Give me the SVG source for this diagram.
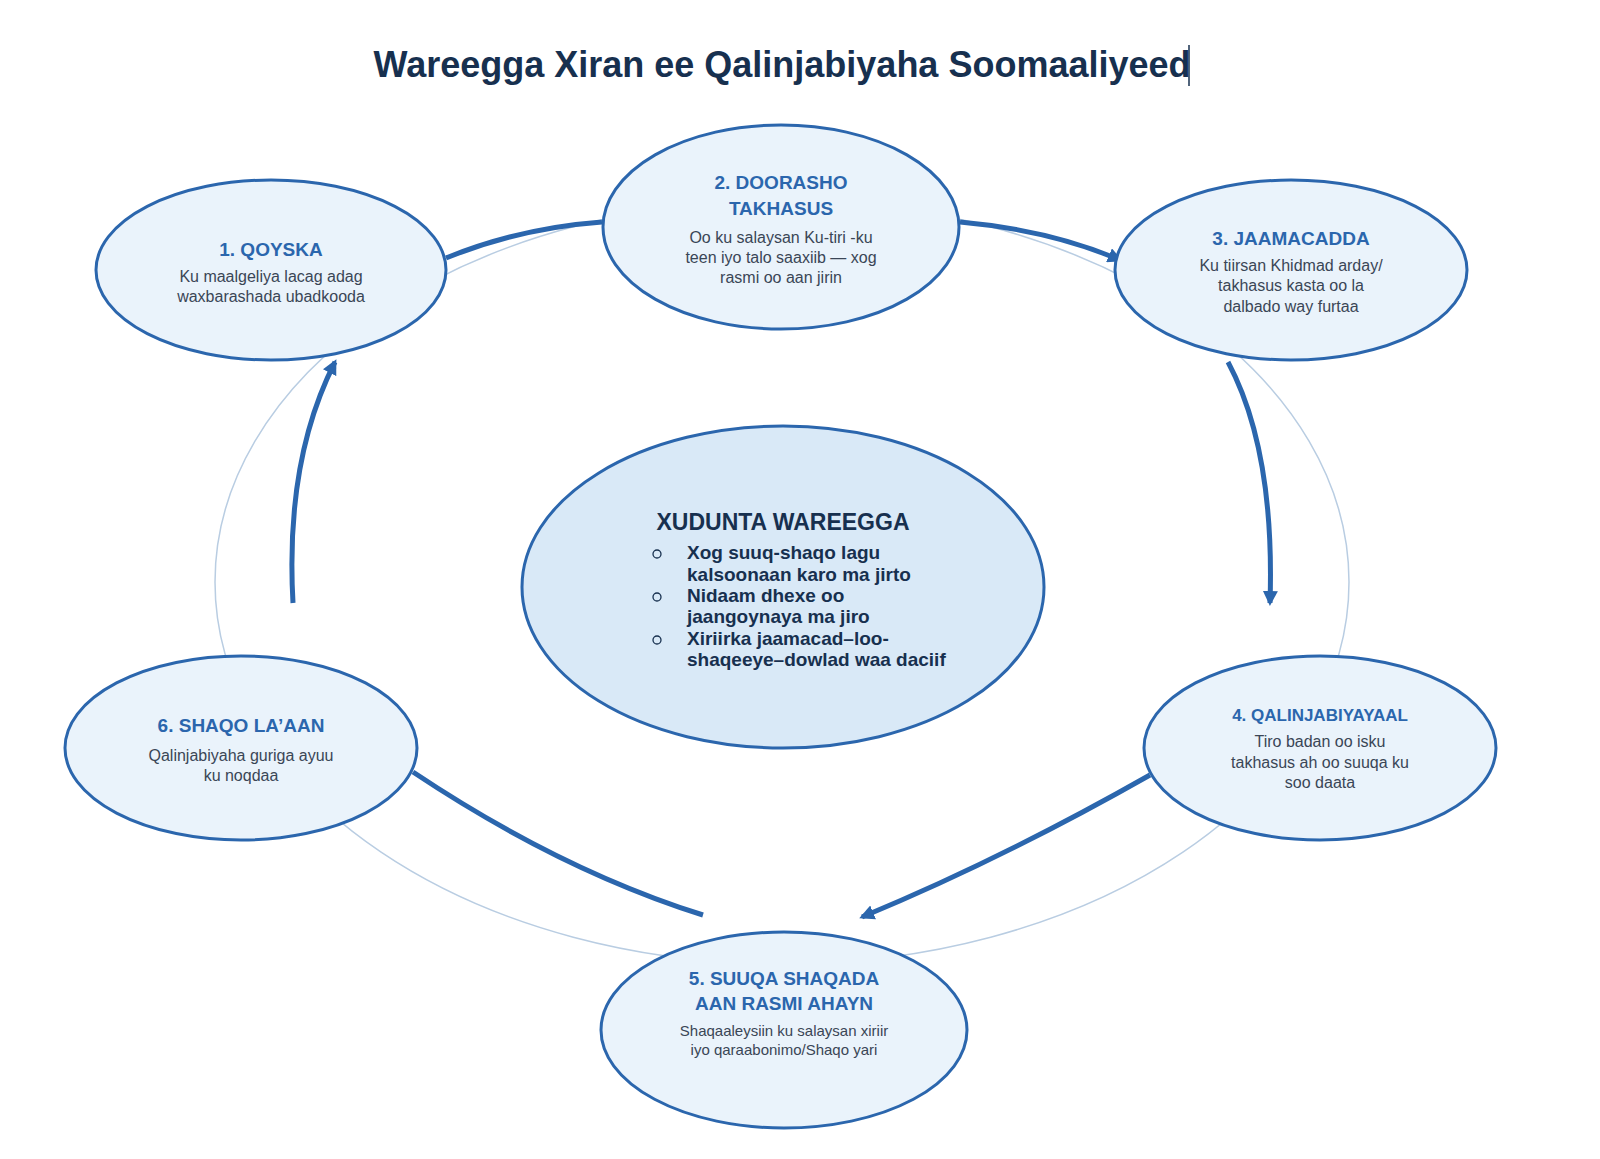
<svg xmlns="http://www.w3.org/2000/svg" width="1600" height="1159" viewBox="0 0 1600 1159">
<style>
.n{fill:#eaf3fb;stroke:#2b66ad;stroke-width:3}
.t{font-family:"Liberation Sans",Arial,sans-serif;font-weight:bold;fill:#2b66ad;font-size:19px;text-anchor:middle}
.d{font-family:"Liberation Sans",Arial,sans-serif;fill:#3a4656;font-size:16px;text-anchor:middle}
.c{fill:none;stroke:#2b66ad;stroke-width:5}
.b{font-family:"Liberation Sans",Arial,sans-serif;font-weight:bold;fill:#17304f;font-size:19px}
</style>
<defs><marker id="a" viewBox="0 0 10 10" refX="8" refY="5" markerWidth="3" markerHeight="3" orient="auto"><path d="M0,0L10,5L0,10z" fill="#2b66ad"/></marker></defs>
<rect width="1600" height="1159" fill="#fff"/>
<text x="782" y="77" font-family="Liberation Sans,Arial,sans-serif" font-weight="bold" font-size="36" fill="#17304f" text-anchor="middle">Wareegga Xiran ee Qalinjabiyaha Soomaaliyeed</text>
<line x1="1189" y1="45" x2="1189" y2="86" stroke="#17304f" stroke-width="1.5"/>
<ellipse cx="782" cy="582" rx="567" ry="382" fill="none" stroke="#b9cde2" stroke-width="1.5"/>
<g id="connectors">
<path class="c" d="M446,258 Q520,228 602,222"/>
<path class="c" d="M960,222 Q1050,230 1120,260" marker-end="url(#a)"/>
<path class="c" d="M1228,362 Q1275,450 1270,603" marker-end="url(#a)"/>
<path class="c" d="M1150,775 Q1000,860 862,917" marker-end="url(#a)"/>
<path class="c" d="M413,772 Q560,870 703,915"/>
<path class="c" d="M293,603 Q285,460 335,362" marker-end="url(#a)"/>
</g>
<g id="center"><ellipse cx="783" cy="587" rx="261" ry="161" fill="#d9e9f7" stroke="#2b66ad" stroke-width="3"/>
<text x="783" y="530" class="b" style="font-size:23px" text-anchor="middle">XUDUNTA WAREEGGA</text>
<g class="b"><text x="687" y="559">Xog suuq-shaqo lagu</text><text x="687" y="581">kalsoonaan karo ma jirto</text><text x="687" y="602">Nidaam dhexe oo</text><text x="687" y="623">jaangoynaya ma jiro</text><text x="687" y="645">Xiriirka jaamacad–loo-</text><text x="687" y="666">shaqeeye–dowlad waa daciif</text></g>
<g fill="none" stroke="#17304f" stroke-width="1.3"><circle cx="657" cy="554" r="4"/><circle cx="657" cy="597" r="4"/><circle cx="657" cy="640" r="4"/></g></g>
<g id="n1"><ellipse class="n" cx="271" cy="270" rx="175" ry="90"/><text class="t" x="271" y="256">1. QOYSKA</text><text class="d" x="271" y="282">Ku maalgeliya lacag adag</text><text class="d" x="271" y="302">waxbarashada ubadkooda</text></g>
<g id="n2"><ellipse class="n" cx="781" cy="227" rx="178" ry="102"/><text class="t" x="781" y="189">2. DOORASHO</text><text class="t" x="781" y="215">TAKHASUS</text><text class="d" x="781" y="243">Oo ku salaysan Ku-tiri -ku</text><text class="d" x="781" y="263">teen iyo talo saaxiib — xog</text><text class="d" x="781" y="283">rasmi oo aan jirin</text></g>
<g id="n3"><ellipse class="n" cx="1291" cy="270" rx="176" ry="90"/><text class="t" x="1291" y="245">3. JAAMACADDA</text><text class="d" x="1291" y="271">Ku tiirsan Khidmad arday/</text><text class="d" x="1291" y="291">takhasus kasta oo la</text><text class="d" x="1291" y="312">dalbado way furtaa</text></g>
<g id="n4"><ellipse class="n" cx="1320" cy="748" rx="176" ry="92"/><text class="t" x="1320" y="721" style="font-size:17px">4. QALINJABIYAYAAL</text><text class="d" x="1320" y="747">Tiro badan oo isku</text><text class="d" x="1320" y="768">takhasus ah oo suuqa ku</text><text class="d" x="1320" y="788">soo daata</text></g>
<g id="n5"><ellipse class="n" cx="784" cy="1030" rx="183" ry="98"/><text class="t" x="784" y="985">5. SUUQA SHAQADA</text><text class="t" x="784" y="1010">AAN RASMI AHAYN</text><text class="d" x="784" y="1036" style="font-size:15px">Shaqaaleysiin ku salaysan xiriir</text><text class="d" x="784" y="1055" style="font-size:15px">iyo qaraabonimo/Shaqo yari</text></g>
<g id="n6"><ellipse class="n" cx="241" cy="748" rx="176" ry="92"/><text class="t" x="241" y="732">6. SHAQO  LA’AAN</text><text class="d" x="241" y="761">Qalinjabiyaha  guriga ayuu</text><text class="d" x="241" y="781">ku noqdaa</text></g>
</svg>
